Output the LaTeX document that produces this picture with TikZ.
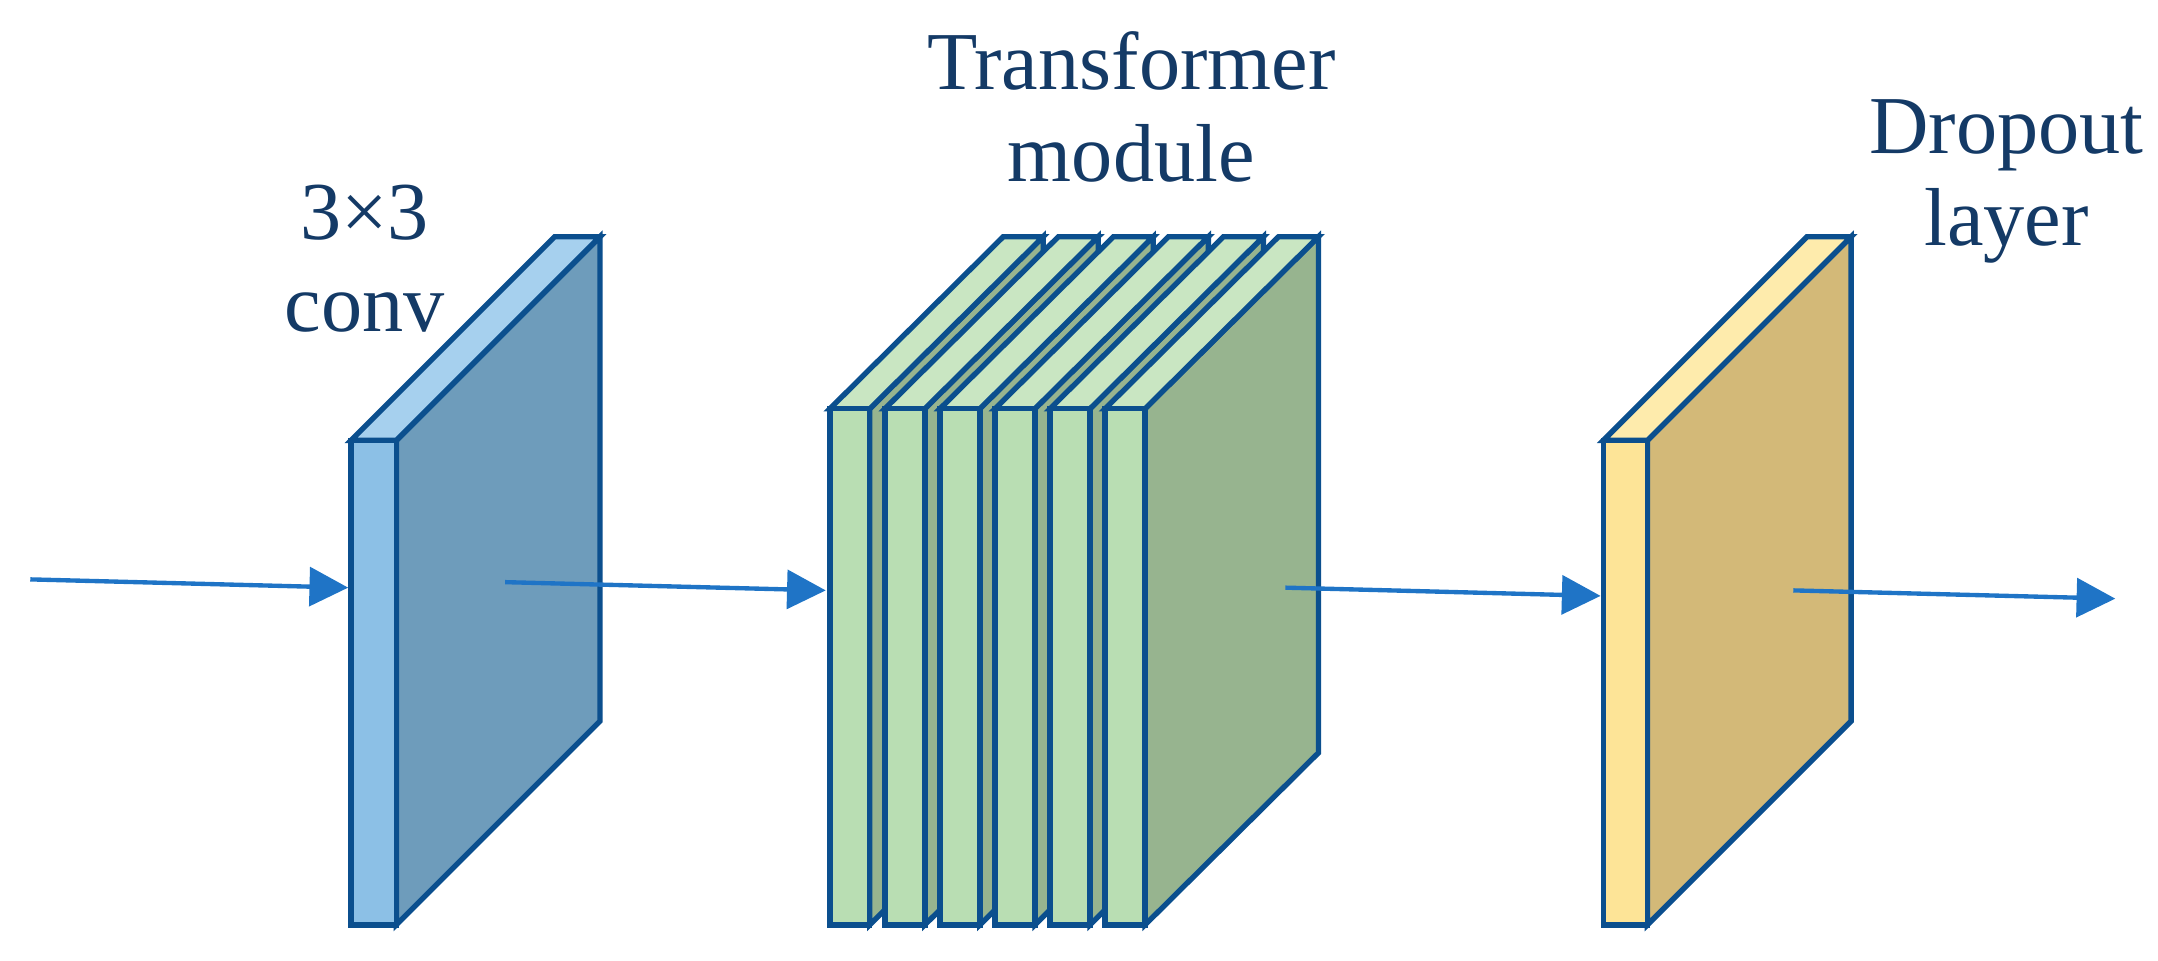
\documentclass[tikz,border=0pt]{standalone}
\usepackage{fontspec}
\setmainfont{Liberation Serif}
\usetikzlibrary{arrows.meta}
\definecolor{edgeblue}{HTML}{0B4F8E}
\definecolor{arrowblue}{HTML}{1F74C6}
\definecolor{txtnavy}{HTML}{143A66}
\definecolor{convfront}{HTML}{8CC0E6}
\definecolor{convtop}{HTML}{A6D0EE}
\definecolor{convside}{HTML}{6E9CBB}
\definecolor{trfront}{HTML}{B9DEB3}
\definecolor{trtop}{HTML}{C9E6C2}
\definecolor{trside}{HTML}{97B48F}
\definecolor{dropfront}{HTML}{FDE497}
\definecolor{droptop}{HTML}{FEEBAC}
\definecolor{dropside}{HTML}{D3B978}

% slab: left x, width, top y, bottom y, depth dx, depth dy, colour prefix
\newcommand{\slab}[7]{
    \fill[#7side,draw=edgeblue] (#1+#2,#3) -- ++(#5,#6) -- (#1+#2+#5,#4+#6) -- (#1+#2,#4) -- cycle;
    \fill[#7top,draw=edgeblue] (#1,#3) -- ++(#5,#6) -- ++(#2,0) -- (#1+#2,#3) -- cycle;
    \fill[#7front,draw=edgeblue] (#1,#3) rectangle (#1+#2,#4);
}

\begin{document}
\begin{tikzpicture}[x=0.01cm,y=-0.01cm,
    every path/.style={line width=1.1pt,line join=miter},
    flow/.style={arrowblue,line width=0.9pt,-{Triangle[length=8pt,width=8pt]}},
    lbl/.style={text=txtnavy,font=\fontsize{17}{19}\selectfont,align=center,inner sep=0}]
    \useasboundingbox (0,0) rectangle (1568,698);

    \slab{255}{33}{320}{672}{148}{-148}{conv}
    \foreach \x in {603,643,683,723,763,803}{
        \slab{\x}{29}{297}{672}{126}{-125}{tr}
    }
    \slab{1165}{32}{320}{672}{148}{-148}{drop}

    \coordinate (in) at (22,421);
    \coordinate (convin) at (253,427);
    \coordinate (convout) at (367,423);
    \coordinate (trin) at (600,429);
    \coordinate (trout) at (934,427);
    \coordinate (dropin) at (1163,433);
    \coordinate (dropout) at (1303,429);
    \coordinate (out) at (1537,435);

    \draw[flow] (in) -- (convin);
    \draw[flow] (convout) -- (trin);
    \draw[flow] (trout) -- (dropin);
    \draw[flow] (dropout) -- (out);

    \node[lbl] (convlbl) at (265,188) {3\texttimes3\\conv};
    \node[lbl] (trlbl) at (822,78) {Transformer\\module};
    \node[lbl] (droplbl) at (1458,132) {Dropout\\layer};
\end{tikzpicture}
\end{document}
